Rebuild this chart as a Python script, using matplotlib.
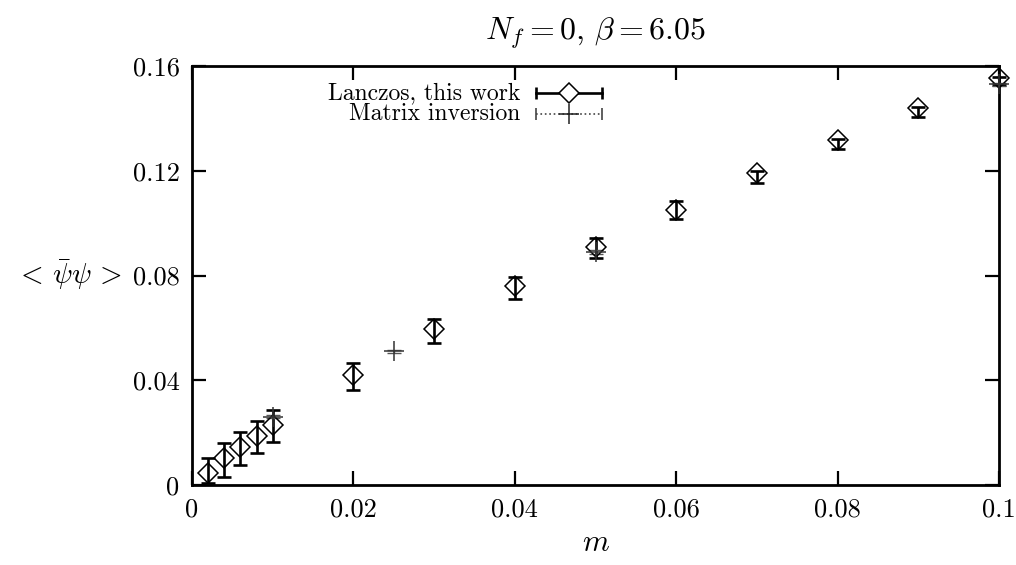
import matplotlib
matplotlib.use("Agg")
import matplotlib.pyplot as plt
import numpy as np

plt.rcParams['font.family'] = 'serif'
plt.rcParams['font.serif'] = ['cmr10', 'DejaVu Serif']
plt.rcParams['mathtext.fontset'] = 'cm'
plt.rcParams['axes.unicode_minus'] = False
plt.rcParams['axes.formatter.use_mathtext'] = True

# Lanczos data (value, lower/upper bounds of error bars)
m_lanczos = [0.002, 0.004, 0.006, 0.008, 0.010, 0.02, 0.03, 0.04, 0.05, 0.06, 0.07, 0.08, 0.09, 0.10]
y_lanczos = [0.0046, 0.0103, 0.0145, 0.0187, 0.0229, 0.0420, 0.0596, 0.0760, 0.0909, 0.1050, 0.1191, 0.1317, 0.1439, 0.1556]
y_low = [0.0008, 0.0031, 0.0076, 0.0122, 0.0164, 0.0363, 0.0542, 0.0710, 0.0867, 0.1015, 0.1152, 0.1282, 0.1405, 0.1527]
y_high = [0.0103, 0.0160, 0.0202, 0.0244, 0.0286, 0.0466, 0.0634, 0.0795, 0.0943, 0.1084, 0.1200, 0.1321, 0.1443, 0.1558]

# Matrix inversion data
m_matrix = [0.010, 0.025, 0.05, 0.10]
y_matrix = [0.0260, 0.0510, 0.0890, 0.1530]
e_matrix = [0.0006, 0.0006, 0.0006, 0.0006]

xticks = [0, 0.02, 0.04, 0.06, 0.08, 0.1]
xticklabels = ["0", "0.02", "0.04", "0.06", "0.08", "0.1"]
yticks = [0, 0.04, 0.08, 0.12, 0.16]
yticklabels = ["0", "0.04", "0.08", "0.12", "0.16"]

fig = plt.figure(figsize=(10.16, 5.65), dpi=100)
ax = fig.add_axes([192/1016, 1-485/565, (999-192)/1016, (485-66)/565])

yl = np.array(y_lanczos)
lo = yl - np.array(y_low)
hi = np.array(y_high) - yl
ax.errorbar(m_lanczos, y_lanczos, yerr=[lo, hi], fmt='none', ecolor='black',
            elinewidth=1.9, capsize=5, capthick=1.9, clip_on=False, zorder=3)
ax.plot(m_lanczos, y_lanczos, linestyle='none', marker='D', ms=10.5,
        mfc='none', mec='black', mew=1.1, clip_on=False, zorder=4)

ax.errorbar(m_matrix, y_matrix, yerr=e_matrix, fmt='none', ecolor='#555555',
            elinewidth=1.0, capsize=5, capthick=1.0, linestyle=':', clip_on=False, zorder=3)
ax.plot(m_matrix, y_matrix, linestyle='none', marker='+', ms=14, mec='#333333',
        mew=1.1, clip_on=False, zorder=4)

ax.set_xlim(0, 0.1)
ax.set_ylim(0, 0.16)
ax.set_xticks(xticks)
ax.set_xticklabels(xticklabels)
ax.set_yticks(yticks)
ax.set_yticklabels(yticklabels)
ax.tick_params(direction='in', length=10, width=1.6, top=True, right=True,
               labelsize=19, pad=9)
for s in ax.spines.values():
    s.set_linewidth(2.0)

ax.set_title(r'$N_f = 0,\, \beta = 6.05$', fontsize=23, pad=19)
ax.set_xlabel(r'$m$', fontsize=22, va='center')
ax.xaxis.set_label_coords(0.5, (485 - 543) / 419.0)
ax.set_ylabel(r'$<\,\bar{\psi}\psi\,>$', fontsize=21, rotation=0, va='center', ha='center')
ax.yaxis.set_label_coords((68 - 192) / 807.0, (485 - 275) / 419.0)

# Manual gnuplot-style key
def px2ax(x, y):
    return (x - 192) / 807.0, (485 - y) / 419.0

tx, ty1 = px2ax(520, 93)
_, ty2 = px2ax(520, 114)
ax.text(tx, ty1, 'Lanczos, this work', transform=ax.transAxes, ha='right', va='center', fontsize=17)
ax.text(tx, ty2, 'Matrix inversion', transform=ax.transAxes, ha='right', va='center', fontsize=17)
x0, _ = px2ax(536, 0)
x1, _ = px2ax(602, 0)
xc = (x0 + x1) / 2
ax.plot([x0, x1], [ty1, ty1], color='black', lw=1.9, transform=ax.transAxes, clip_on=False)
ax.plot([x0, x1], [ty1, ty1], linestyle='none', marker='|', ms=9, mew=1.9, color='black',
        transform=ax.transAxes, clip_on=False)
ax.plot([xc], [ty1], marker='D', ms=10.5, mfc='white', mec='black', mew=1.1,
        transform=ax.transAxes, clip_on=False)
ax.plot([x0, x1], [ty2, ty2], color='#444444', lw=1.2, linestyle=':', transform=ax.transAxes, clip_on=False)
ax.plot([x0, x1], [ty2, ty2], linestyle='none', marker='|', ms=9, mew=1.2, color='#444444',
        transform=ax.transAxes, clip_on=False)
ax.plot([xc], [ty2], marker='+', ms=14, mec='#222222', mew=1.1,
        transform=ax.transAxes, clip_on=False)

fig.savefig('out.png', dpi=100)
